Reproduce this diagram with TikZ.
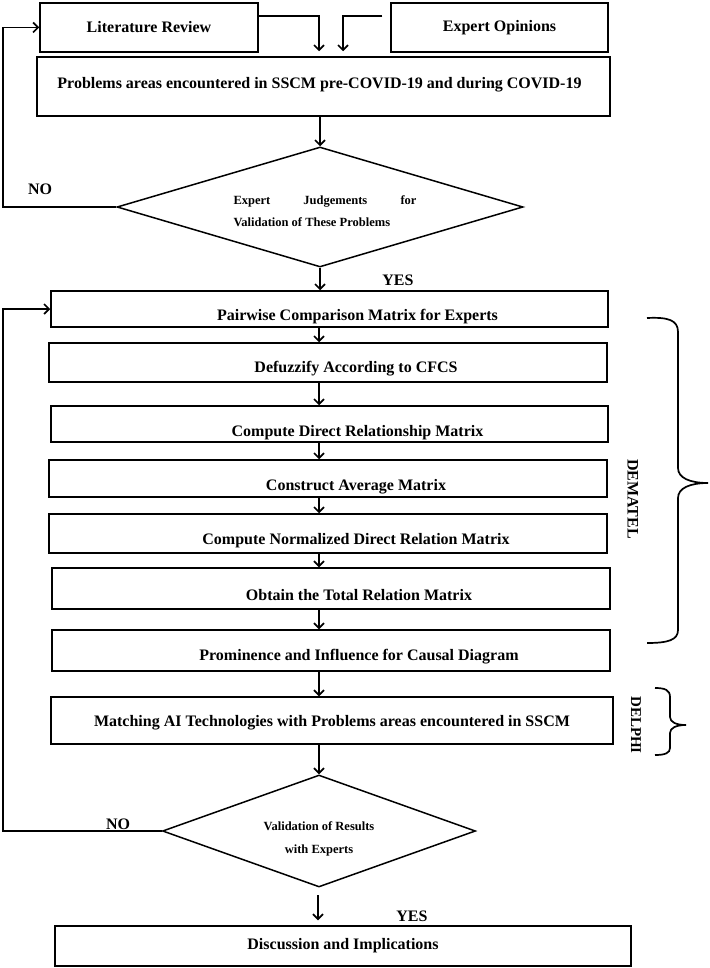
\documentclass[tikz,border=0pt]{standalone}
\usepackage{fontspec}
\setmainfont{Liberation Serif}
\usetikzlibrary{shapes.geometric,arrows.meta}
\begin{document}
\begin{tikzpicture}[x=1pt,y=-1pt,
  box/.style={draw,line width=1.5pt,rectangle,inner sep=0pt,font=\bfseries\fontsize{16}{19}\selectfont},
  lbl/.style={font=\bfseries\fontsize{16}{19}\selectfont,inner sep=0pt},
  small/.style={font=\bfseries\fontsize{12.5}{22.5}\selectfont,inner sep=0pt},
  dia/.style={draw,line width=1.5pt,diamond,inner sep=0pt},
  ln/.style={line width=1.7pt},
  arr/.style={line width=1.7pt,-{Straight Barb[length=5pt,width=10pt,line width=1.7pt]}},
]
\useasboundingbox (0,0) rectangle (709,968);

\coordinate (loopx) at (3,0);
\coordinate (col) at (319,0);

% top boxes
\node[box,minimum width=218pt,minimum height=49pt] (lit) at (149,27.5) {Literature Review};
\node[box,minimum width=217pt,minimum height=49pt] (exp) at (499.5,27.5) {Expert Opinions};
\node[box,minimum width=573pt,minimum height=59pt,
  label={[lbl,xshift=-4pt,yshift=1.5pt]center:Problems areas encountered in SSCM pre-COVID-19 and during COVID-19}] (prob) at (323.5,86.5) {};

% decision 1
\node[dia,minimum width=406pt,minimum height=120pt,
  label={[small,align=left,xshift=5pt,yshift=-4pt]center:{\makebox[183pt][s]{Expert\hfill Judgements\hfill for}\\Validation of These Problems}}] (d1) at (320,207) {};

% main column
\node[box,minimum width=557pt,minimum height=36pt,
  label={[lbl,xshift=28pt,yshift=-8pt]center:Pairwise Comparison Matrix for Experts}] (pw) at (329.5,309) {};
\node[box,minimum width=558pt,minimum height=39pt,
  label={[lbl,xshift=28pt,yshift=-6.5pt]center:Defuzzify According to CFCS}] (df) at (328,362.5) {};
\node[box,minimum width=557pt,minimum height=36pt,
  label={[lbl,xshift=28pt,yshift=-9pt]center:Compute Direct Relationship Matrix}] (cd) at (329.5,424) {};
\node[box,minimum width=558pt,minimum height=37pt,
  label={[lbl,xshift=28pt,yshift=-8.5pt]center:Construct Average Matrix}] (ca) at (328,478.5) {};
\node[box,minimum width=558pt,minimum height=39pt,
  label={[lbl,xshift=28pt,yshift=-7.5pt]center:Compute Normalized Direct Relation Matrix}] (nm) at (328,533.5) {};
\node[box,minimum width=558pt,minimum height=41pt,
  label={[lbl,xshift=28pt,yshift=-6.5pt]center:Obtain the Total Relation Matrix}] (tr) at (331,588.5) {};
\node[box,minimum width=558pt,minimum height=41pt,
  label={[lbl,xshift=28pt,yshift=-6.5pt]center:Prominence and Influence for Causal Diagram}] (pr) at (331,650.5) {};
\node[box,minimum width=562pt,minimum height=47pt,
  label={[lbl,yshift=-2.5pt]center:Matching AI Technologies with Problems areas encountered in SSCM}] (ma) at (332,720.5) {};

% decision 2
\node[dia,minimum width=313pt,minimum height=112pt,
  label={[small,align=center,yshift=-8pt]center:{Validation of Results\\with Experts}}] (d2) at (319,831) {};

\node[box,minimum width=576pt,minimum height=40pt] (disc) at (343,946) {Discussion and Implications};

% labels
\node[lbl] (no1) at (40,189) {NO};
\node[lbl] (yes1) at (398,280) {YES};
\node[lbl] (no2) at (118,824) {NO};
\node[lbl] (yes2) at (412,916) {YES};
\node[lbl,rotate=-90] (dem) at (633,499) {DEMATEL};
\node[lbl,font=\bfseries\fontsize{15}{18}\selectfont,rotate=-90] (del) at (636,725) {DELPHI};

% connectors
\draw[arr,shorten >=5pt] ([yshift=11.5pt]lit.east) -| ([xshift=-4.5pt]prob.north);
\draw[arr,shorten >=5pt,shorten <=8pt] ([yshift=11.5pt]exp.west) -| ([xshift=19.5pt]prob.north);
\draw[arr] (prob.south -| d1.north) -- (d1.north);
\draw[arr] (d1.west) -- (d1.west -| loopx) |- (lit.west);
\draw[arr] (d1.south) -- (d1.south |- pw.north);
\draw[arr] (pw.south -| col) -- (df.north -| col);
\draw[arr] (df.south -| col) -- (cd.north -| col);
\draw[arr] (cd.south -| col) -- (ca.north -| col);
\draw[arr] (ca.south -| col) -- (nm.north -| col);
\draw[arr] (nm.south -| col) -- (tr.north -| col);
\draw[arr] (tr.south -| col) -- (pr.north -| col);
\draw[arr] (pr.south -| col) -- (ma.north -| col);
\draw[arr] (ma.south -| d2.north) -- (d2.north);
\draw[arr] (d2.west) -- (d2.west -| loopx) |- (pw.west);
\coordinate (ys) at (318,895);
\draw[arr,shorten >=5pt] (ys) -- (ys |- disc.north);

% braces
\draw[ln] (647,318) .. controls (668,317) and (678,320) .. (678,332) -- (678,468)
  .. controls (678,478) and (690,483) .. (708,483)
  .. controls (690,483) and (678,488) .. (678,498) -- (678,630)
  .. controls (678,640) and (668,643) .. (647,643);
\draw[ln] (655,688) .. controls (665,688) and (670,690) .. (670,697) -- (670,717)
  .. controls (670,722) and (676,725) .. (686,725)
  .. controls (676,725) and (670,728) .. (670,733) -- (670,748)
  .. controls (670,753) and (665,755) .. (655,755);
\end{tikzpicture}
\end{document}
